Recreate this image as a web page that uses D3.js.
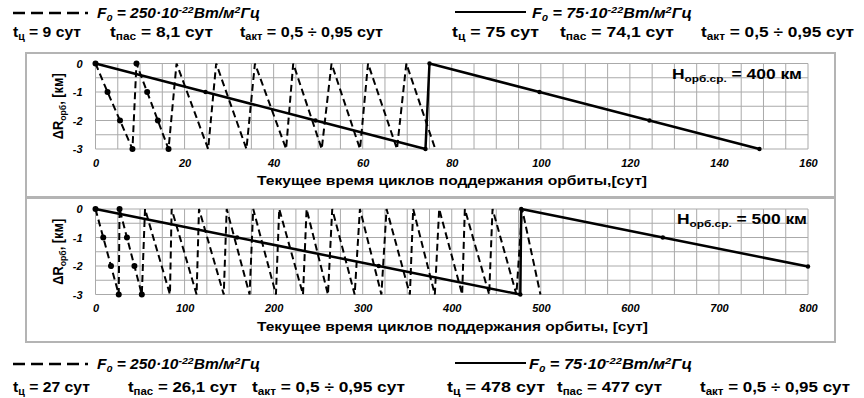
<!DOCTYPE html>
<html>
<head>
<meta charset="utf-8">
<script src="https://cdn.jsdelivr.net/npm/d3@7"></script>
<style>
  body { margin: 0; background: #fff; }
  text { font-family: "Liberation Sans", Arial, sans-serif; }
</style>
</head>
<body>
<svg id="chart"></svg>
<script>
// ---- H = 400 km ----
// dashed: F0 = 250e-22, cycles of ~9 days
const dash400X = [0, 2.7, 5.5, 8.3, 9.2, 11.6, 14.0, 16.4, 18.2, 25.3, 27.1, 33.9, 35.8, 42.8,
                  44.4, 50.8, 53.0, 59.4, 61.2, 67.7, 69.8, 76.3];
const dash400Y = [0, -1, -2, -3, 0, -1, -2, -3, 0, -3, 0, -3, 0, -3,
                  0, -3, 0, -3, 0, -3, 0, -3];
const dash400Marked = 8;   // first points drawn with a marker
// solid: F0 = 75e-22, cycles of 75 days
const solid400X = [0, 24.7, 49.4, 74.1, 75, 99.7, 124.4, 149.1];
const solid400Y = [0, -1, -2, -3, 0, -1, -2, -3];
const x400Ticks = [0, 20, 40, 60, 80, 100, 120, 140, 160];
const x400Grid = 5;

// ---- H = 500 km ----
const dash500X = [0, 8.7, 17.4, 26.1, 27, 35.3, 43.7, 52, 55.6, 83.6, 85.5, 113.5, 116.2, 144,
                  147.3, 173, 177.1, 202.6, 206.3, 233, 237, 261, 265.8, 291, 296.9, 321,
                  326.8, 353, 356.7, 381, 385.9, 411.7, 414.7, 442, 445.8, 472.6, 479, 499.6];
const dash500Y = [0, -1, -2, -3, 0, -1, -2, -3, 0, -3, 0, -3, 0, -3,
                  0, -3, 0, -3, 0, -3, 0, -3, 0, -3, 0, -3,
                  0, -3, 0, -3, 0, -3, 0, -3, 0, -3, 0, -3];
const dash500Marked = 8;
const solid500X = [0, 159, 318, 477, 478, 637, 800];
const solid500Y = [0, -1, -2, -3, 0, -1, -2.02];
const x500Ticks = [0, 100, 200, 300, 400, 500, 600, 700, 800];
const x500Grid = 25;

const yTicks = [0, -1, -2, -3];
const xTitle400 = 'Текущее время циклов поддержания орбиты,[сут]';
const xTitle500 = 'Текущее время циклов поддержания орбиты, [сут]';
const yTitle = 'ΔR_{орб}, [км]';
const hLabel400 = 'H_{орб.ср.} = 400 км';
const hLabel500 = 'H_{орб.ср.} = 500 км';

const fDash = 'F_{0} = 250·10^{-22}Вт/м^{2}Гц';
const fSolid = 'F_{0} = 75·10^{-22}Вт/м^{2}Гц';
const topDashInfo = ['t_{ц} = 9 сут', 't_{пас} = 8,1 сут', 't_{акт} = 0,5 ÷ 0,95 сут'];
const topSolidInfo = ['t_{ц} = 75 сут', 't_{пас} = 74,1 сут', 't_{акт} = 0,5 ÷ 0,95 сут'];
const botDashInfo = ['t_{ц} = 27 сут', 't_{пас} = 26,1 сут', 't_{акт} = 0,5 ÷ 0,95 сут'];
const botSolidInfo = ['t_{ц} = 478 сут', 't_{пас} = 477 сут', 't_{акт} = 0,5 ÷ 0,95 сут'];

const W = 864, H = 398;
const svg = d3.select('#chart').attr('width', W).attr('height', H);

// text with _{sub} and ^{sup} parts
function rich(g, x, y, str, o) {
    const t = g.append('text')
        .attr('x', x).attr('y', y)
        .style('font-size', o.size + 'px')
        .style('font-weight', 'bold')
        .style('font-style', o.italic ? 'italic' : 'normal');
    const parts = str.split(/([_^]\{[^}]*\})/).filter(s => s.length);
    let shift = 0;
    parts.forEach(p => {
        let s = 0, txt = p, small = false;
        if (p[0] === '_') { s = 3; txt = p.slice(2, -1); small = true; }
        if (p[0] === '^') { s = -5; txt = p.slice(2, -1); small = true; }
        t.append('tspan')
            .attr('dy', s - shift)
            .style('font-size', small ? (o.size * 0.68) + 'px' : null)
            .text(txt);
        shift = s;
    });
    if (o.len) t.attr('textLength', o.len).attr('lengthAdjust', 'spacingAndGlyphs');
    if (o.anchor) t.attr('text-anchor', o.anchor);
    return t;
}

function panel(cfg) {
    const g = svg.append('g');

    g.append('rect')
        .attr('x', 26).attr('y', cfg.boxTop)
        .attr('width', 809).attr('height', 144)
        .attr('fill', '#fff')
        .attr('stroke', '#b4b4b4')
        .attr('stroke-width', 2);

    const x = d3.scaleLinear().domain([0, cfg.xmax]).range([95.5, 808]);
    const y = d3.scaleLinear().domain([0, -3]).range([cfg.y0, cfg.y0 + 85.5]);

    // grid
    const grid = g.append('g').attr('stroke', '#aaa').attr('stroke-width', 1);
    grid.selectAll('line.v')
        .data(d3.range(0, cfg.xmax + 0.001, cfg.gridStep))
        .join('line')
        .attr('x1', d => x(d)).attr('x2', d => x(d))
        .attr('y1', y(0)).attr('y2', y(-3));
    grid.selectAll('line.h')
        .data(d3.range(0, -3.001, -0.5))
        .join('line')
        .attr('class', 'h')
        .attr('x1', x(0)).attr('x2', x(cfg.xmax))
        .attr('y1', d => y(d)).attr('y2', d => y(d));

    // axes
    const xAxis = d3.axisBottom(x).tickValues(cfg.xTicks).tickSize(0).tickPadding(10)
        .tickFormat(d3.format('d'));
    const yAxis = d3.axisLeft(y).tickValues(yTicks).tickSize(0).tickPadding(13)
        .tickFormat(d => String(d).replace('−', '-'));
    const gx = g.append('g').attr('transform', `translate(0,${y(-3)})`).call(xAxis);
    const gy = g.append('g').attr('transform', `translate(${x(0)},0)`).call(yAxis);
    [gx, gy].forEach(a => {
        a.select('.domain').remove();
        a.selectAll('text')
            .style('font-family', '"Liberation Sans", Arial, sans-serif')
            .style('font-size', '11px')
            .style('font-weight', 'bold')
            .style('font-style', 'italic')
            .attr('fill', '#000');
    });

    // series
    const line = d3.line().x(d => x(d[0])).y(d => y(d[1]));
    const dash = cfg.dashX.map((v, i) => [v, cfg.dashY[i]]);
    const solid = cfg.solidX.map((v, i) => [v, cfg.solidY[i]]);

    g.append('path').datum(dash)
        .attr('d', line)
        .attr('fill', 'none')
        .attr('stroke', '#000')
        .attr('stroke-width', 2)
        .attr('stroke-dasharray', '7,4');

    g.append('path').datum(solid)
        .attr('d', line)
        .attr('fill', 'none')
        .attr('stroke', '#000')
        .attr('stroke-width', 2.5)
        .attr('stroke-linejoin', 'round');

    g.selectAll('circle.d')
        .data(dash.slice(0, cfg.marked))
        .join('circle')
        .attr('class', 'd')
        .attr('cx', d => x(d[0])).attr('cy', d => y(d[1]))
        .attr('r', 3).attr('fill', '#000');

    g.selectAll('circle.s')
        .data(solid)
        .join('circle')
        .attr('class', 's')
        .attr('cx', d => x(d[0])).attr('cy', d => y(d[1]))
        .attr('r', 2.2).attr('fill', '#000');

    // titles
    rich(g, 257, y(-3) + 36, cfg.xTitle, { size: 13, len: cfg.xTitleLen });
    const yt = g.append('g').attr('transform', `translate(63,${(y(0) + y(-3)) / 2}) rotate(-90)`);
    rich(yt, 0, 0, yTitle, { size: 14, len: 66, anchor: 'middle' });
    rich(g, cfg.hx, y(0) + 15, cfg.hLabel, { size: 14, len: 130 });
}

panel({ boxTop: 53, y0: 63.5, xmax: 160, gridStep: x400Grid, xTicks: x400Ticks,
        dashX: dash400X, dashY: dash400Y, marked: dash400Marked,
        solidX: solid400X, solidY: solid400Y,
        xTitle: xTitle400, xTitleLen: 390, hLabel: hLabel400, hx: 672 });
panel({ boxTop: 198, y0: 209, xmax: 800, gridStep: x500Grid, xTicks: x500Ticks,
        dashX: dash500X, dashY: dash500Y, marked: dash500Marked,
        solidX: solid500X, solidY: solid500Y,
        xTitle: xTitle500, xTitleLen: 391, hLabel: hLabel500, hx: 677 });

// legends / parameter lines
function legend(y1, y2, dashInfo, solidInfo, pos) {
    const g = svg.append('g');
    g.append('line')
        .attr('x1', 13).attr('x2', 88).attr('y1', y1 - 5).attr('y2', y1 - 5)
        .attr('stroke', '#000').attr('stroke-width', 2.5)
        .attr('stroke-dasharray', '12,6');
    rich(g, 97, y1, fDash, { size: 14, italic: true, len: 163 });
    g.append('line')
        .attr('x1', 455).attr('x2', 526).attr('y1', y1 - 6).attr('y2', y1 - 6)
        .attr('stroke', '#000').attr('stroke-width', 2);
    rich(g, pos.fx, y1, fSolid, { size: 14, italic: true, len: pos.flen });
    dashInfo.forEach((s, i) => rich(g, pos.dx[i], y2, s, { size: 15, len: pos.dl[i] }));
    solidInfo.forEach((s, i) => rich(g, pos.sx[i], y2, s, { size: 15, len: pos.sl[i] }));
}

legend(18, 37, topDashInfo, topSolidInfo, {
    fx: 532, flen: 160,
    dx: [13, 110, 240], dl: [68, 103, 143],
    sx: [452, 560, 701], sl: [87, 114, 153]
});
legend(369, 392, botDashInfo, botSolidInfo, {
    fx: 529, flen: 163,
    dx: [13, 128, 252], dl: [77, 109, 153],
    sx: [447, 557, 700], sl: [98, 105, 150]
});
</script>
</body>
</html>
